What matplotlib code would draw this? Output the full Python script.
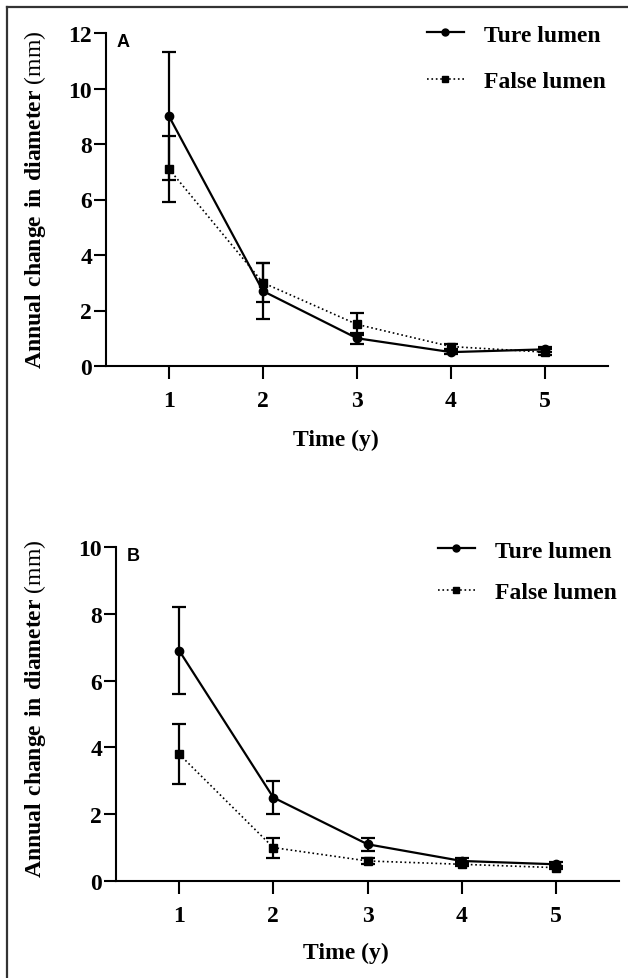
#!/usr/bin/env python3
"""Annual change in true/false lumen diameter over follow-up (panels A and B)."""

import matplotlib

matplotlib.use("Agg")
import matplotlib.pyplot as plt
from matplotlib.lines import Line2D

plt.rcParams["font.family"] = ["Liberation Serif", "DejaVu Serif"]
plt.rcParams["mathtext.fontset"] = "custom"
plt.rcParams["mathtext.rm"] = "Liberation Serif"
plt.rcParams["mathtext.bf"] = "Liberation Serif:bold"

years = [1, 2, 3, 4, 5]
series_labels = ["Ture lumen", "False lumen"]

# panel A
a_true = [9.0, 2.7, 1.0, 0.5, 0.6]
a_true_err = [2.3, 1.0, 0.2, 0.08, 0.08]
a_false = [7.1, 3.0, 1.5, 0.7, 0.5]
a_false_err = [1.2, 0.7, 0.4, 0.08, 0.1]

# panel B
b_true = [6.9, 2.5, 1.1, 0.6, 0.5]
b_true_err = [1.3, 0.5, 0.2, 0.1, 0.08]
b_false = [3.8, 1.0, 0.6, 0.5, 0.4]
b_false_err = [0.9, 0.3, 0.1, 0.06, 0.05]

W, H = 628, 979
FS = 17


def fx(px):
    return px / W


def fy(py):
    return 1 - py / H


def draw_panel(ax, true_vals, true_err, false_vals, false_err, ymax, letter):
    ax.errorbar(years, true_vals, yerr=true_err, color="black", lw=1.6,
                marker="o", ms=6, capsize=5, elinewidth=1.6, capthick=1.6,
                zorder=3)
    ax.errorbar(years, false_vals, yerr=false_err, color="black", lw=1.2,
                ls=":", marker="s", ms=6, capsize=5, elinewidth=1.6,
                capthick=1.6, zorder=3)
    ax.set_xlim(0.33, 5.67)
    ax.set_ylim(0, ymax)
    ax.set_xticks(years)
    ax.set_yticks(range(0, ymax + 1, 2))
    for side in ["top", "right"]:
        ax.spines[side].set_visible(False)
    for side in ["left", "bottom"]:
        ax.spines[side].set_linewidth(1.5)
    ax.tick_params(axis="x", length=9, width=1.5, pad=8, labelsize=FS)
    ax.tick_params(axis="y", length=9, width=1.5, pad=1, labelsize=FS)
    for lab in ax.get_xticklabels() + ax.get_yticklabels():
        lab.set_fontweight("bold")
    ax.text(0.022, 0.975, letter, transform=ax.transAxes, ha="left",
            va="center", fontsize=13, fontweight="bold",
            family="Liberation Sans")


def add_legend(ax, x0, y0, spacing):
    handles = [
        Line2D([], [], color="black", lw=1.6, marker="o", ms=5),
        Line2D([], [], color="black", lw=1.2, ls=":", marker="s", ms=5),
    ]
    leg = ax.legend(handles, series_labels, loc="upper left",
                    bbox_to_anchor=(fx(x0), fy(y0)),
                    bbox_transform=ax.figure.transFigure, frameon=False,
                    borderpad=0, borderaxespad=0, handlelength=1.55,
                    handletextpad=0.85, labelspacing=spacing,
                    prop={"size": FS, "weight": "bold"})
    return leg


fig = plt.figure(figsize=(W / 100, H / 100), dpi=100)

ax_a = fig.add_axes([fx(106), fy(367), fx(608 - 106), (367 - 34) / H])
draw_panel(ax_a, a_true, a_true_err, a_false, a_false_err, 12, "A")
add_legend(ax_a, 427, 25, 1.07)

ax_b = fig.add_axes([fx(116), fy(882), fx(619 - 116), (882 - 548) / H])
draw_panel(ax_b, b_true, b_true_err, b_false, b_false_err, 10, "B")
add_legend(ax_b, 438, 541, 0.86)

ylabel = r"$\mathbf{Annual\ change\ in\ diameter}$ (mm)"
fig.text(fx(35), fy(200), ylabel, rotation=90, ha="center", va="center",
         fontsize=FS)
fig.text(fx(35), fy(709), ylabel, rotation=90, ha="center", va="center",
         fontsize=FS)
fig.text(fx(336), fy(440), "Time (y)", ha="center", va="center",
         fontsize=FS, fontweight="bold")
fig.text(fx(346), fy(953), "Time (y)", ha="center", va="center",
         fontsize=FS, fontweight="bold")

# outer frame (only the left and top edges fall inside the image)
fig.add_artist(Line2D([fx(7), fx(7)], [fy(8), 0], color="#333333", lw=1.6))
fig.add_artist(Line2D([fx(7), 1], [fy(8), fy(8)], color="#333333", lw=1.6))

fig.savefig("out.png", dpi=100)
